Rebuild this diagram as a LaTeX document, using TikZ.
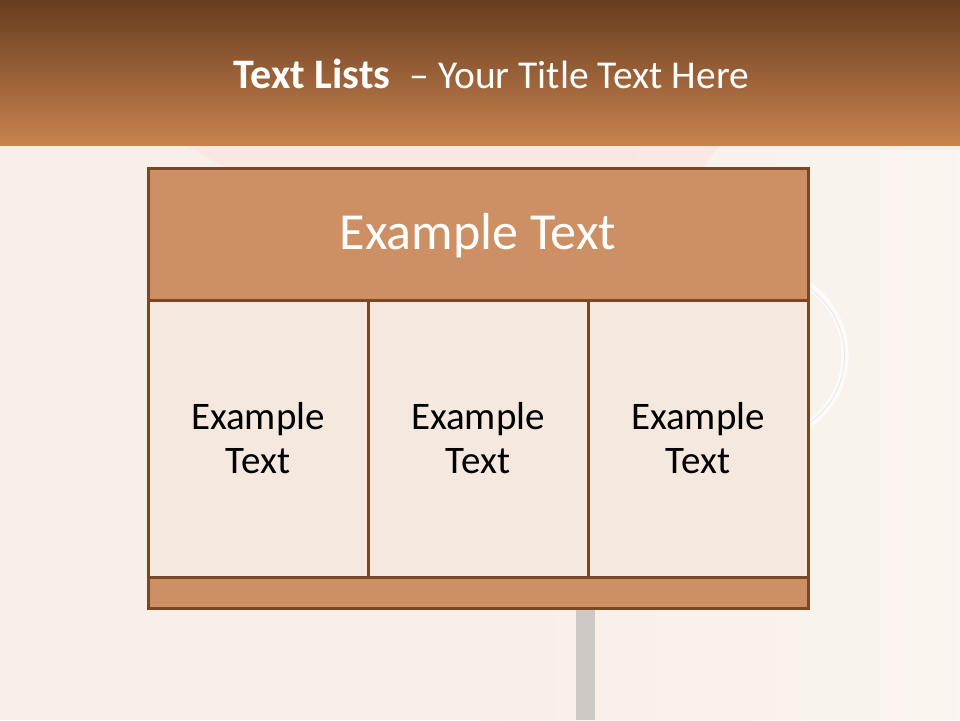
\documentclass[tikz,border=0pt]{standalone}
\usepackage{fontspec}
\setmainfont{Carlito}
\definecolor{bandtop}{HTML}{673D1F}
\definecolor{bandbot}{HTML}{C8824F}
\definecolor{bg}{HTML}{F8EFE8}
\definecolor{edge}{HTML}{7A4726}
\definecolor{headfill}{HTML}{CD9064}
\definecolor{cellfill}{HTML}{F5E8DF}
\definecolor{pole}{HTML}{CDC9C4}
\tikzset{
  panel/.style={draw=edge, line width=3pt, inner sep=0pt, outer sep=0pt},
  headbox/.style={panel, fill=headfill, minimum width=660pt, minimum height=132pt},
  footbox/.style={panel, fill=headfill, minimum width=660pt, minimum height=31pt},
  cellbox/.style={panel, fill=cellfill, minimum width=220pt, minimum height=277pt},
  celltext/.style={align=center, text=black, font=\fontsize{39}{44}\selectfont},
  bigtext/.style={font=\fontsize{52}{60}\selectfont, anchor=base},
}
\begin{document}
\begin{tikzpicture}[x=1pt,y=-1pt]
\useasboundingbox (0,0) rectangle (960,720);
% background
\fill[bg] (0,0) rectangle (960,720);
\shade[left color=bg, right color=white!60!bg, opacity=0.6] (480,150) rectangle (960,720);
\fill[pole] (576,609) rectangle (595,720);
\fill[pink!25!bg, opacity=0.6] (185,145) -- (230,170) -- (700,170) -- (720,145) -- cycle;
\draw[white, line width=7pt, opacity=0.7] (802.5,281.4) arc[start angle=-60, end angle=60, radius=85];
\draw[black!20, line width=1pt, opacity=0.35] (806,286) arc[start angle=-58, end angle=58, radius=82];
% title band
\shade[top color=bandtop, bottom color=bandbot] (0,0) rectangle (960,145);
\node[anchor=base, text=white] (title) at (491.5,88)
  {\fontsize{42}{48}\selectfont\bfseries Text Lists\ \ \fontsize{39.5}{48}\selectfont\mdseries – Your Title Text Here};
% table
\node[headbox] (head) at (478,234) {};
\node[cellbox] (c1) at (258,438.5) {};
\node[cellbox] (c2) at (478,438.5) {};
\node[cellbox] (c3) at (698,438.5) {};
\node[footbox] (foot) at (478,592.5) {};
\draw[edge, line width=3pt] (head.north west) rectangle (foot.south east);
% texts
\node[bigtext, text=white] (headtext) at (478,249.5) {Example Text};
\node[celltext] (t1) at (c1.center) {Example\\Text};
\node[celltext] (t2) at (c2.center) {Example\\Text};
\node[celltext] (t3) at (c3.center) {Example\\Text};
\end{tikzpicture}
\end{document}
